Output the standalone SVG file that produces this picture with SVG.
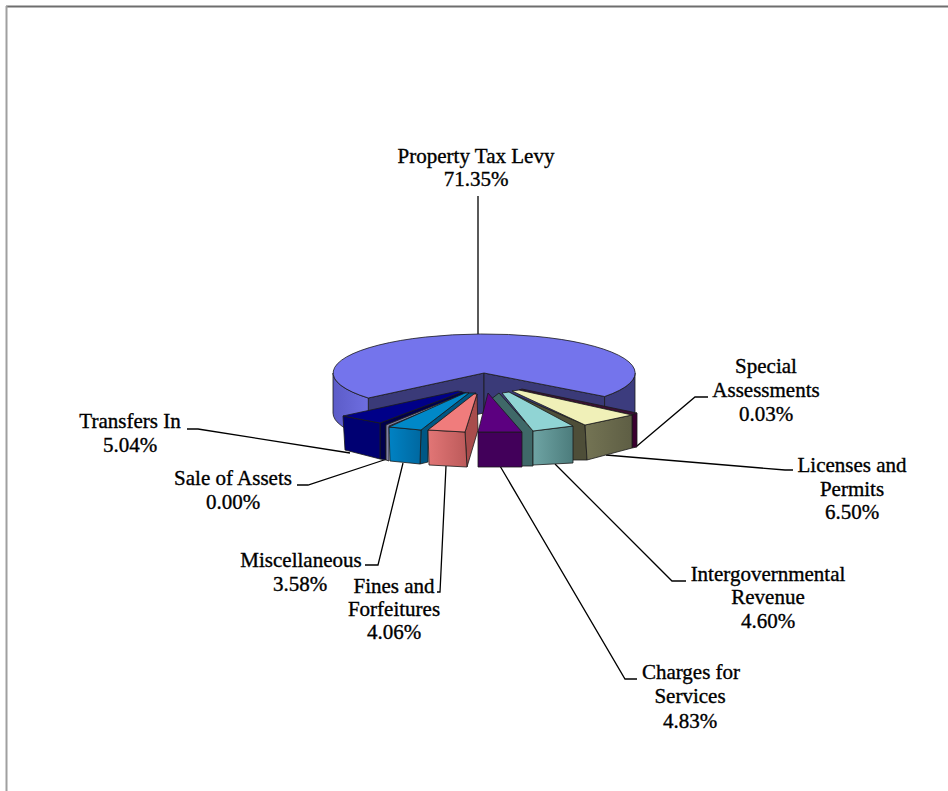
<svg xmlns="http://www.w3.org/2000/svg" width="948" height="791" viewBox="0 0 948 791">
<style>
.lbl{font-family:"Liberation Serif","Times New Roman",serif;font-size:21px;fill:#000;stroke:#000;stroke-width:0.35;text-anchor:middle}
.edge{stroke:#1a1a1a;stroke-width:0.8;stroke-linejoin:round}
.lead{fill:none;stroke:#000;stroke-width:1.3}
</style>
<defs>
<linearGradient id="gWallL" x1="0" y1="0" x2="1" y2="0">
<stop offset="0" stop-color="#5c5cc8"/><stop offset="1" stop-color="#6e6ee0"/>
</linearGradient>
<linearGradient id="gMisc" x1="0" y1="0" x2="1" y2="0">
<stop offset="0" stop-color="#0082c4"/><stop offset="1" stop-color="#0068a0"/>
</linearGradient>
<linearGradient id="gFines" x1="0" y1="0" x2="1" y2="0">
<stop offset="0" stop-color="#e27676"/><stop offset="1" stop-color="#bc5a5a"/>
</linearGradient>
<linearGradient id="gTeal" x1="0" y1="0" x2="1" y2="0">
<stop offset="0" stop-color="#6ea4a4"/><stop offset="1" stop-color="#4c7c7c"/>
</linearGradient>
<linearGradient id="gLic" x1="0" y1="0" x2="1" y2="0">
<stop offset="0" stop-color="#747454"/><stop offset="1" stop-color="#5e5e44"/>
</linearGradient>
</defs>
<rect x="0" y="0" width="948" height="791" fill="#fff"/>
<line x1="6" y1="6.5" x2="948" y2="6.5" stroke="#6e6e6e" stroke-width="2"/>
<line x1="6.5" y1="6" x2="6.5" y2="791" stroke="#a0a0a0" stroke-width="2"/>

<g id="connectors">
<polyline class="lead" points="478,196 478,336"/>
<polyline class="lead" points="708,397 695,397 637,446"/>
<polyline class="lead" points="793,470 785,470 606,455"/>
<polyline class="lead" points="686,581 672,581 555,464"/>
<polyline class="lead" points="637,679 625,679 500,466"/>
<polyline class="lead" points="437,592 440,592 446,466"/>
<polyline class="lead" points="365,565 378,565 403,463"/>
<polyline class="lead" points="297,485 308,485 387,459"/>
<polyline class="lead" points="187,429 198,429 350,453"/>
</g>

<g id="property-tax-levy">
<path class="edge" fill="#3a3a78" d="M484,373 L368.3,398 L368.3,438 L484,413 Z"/>
<path class="edge" fill="#3a3a78" d="M484,373 L604.6,396.5 L604.6,436.5 L484,413 Z"/>
<path class="edge" fill="url(#gWallL)" d="M368.3,398 A151,39 0 0 1 333,373 L333,413 A151,39 0 0 0 368.3,438 Z"/>
<path class="edge" fill="#3c3c7e" d="M635,373 A151,39 0 0 1 604.6,396.5 L604.6,436.5 A151,39 0 0 0 635,413 Z"/>
<path class="edge" fill="#7474ec" d="M484,373 L604.6,396.5 A151,39 0 1 0 368.3,398 Z"/>
<text class="lbl" x="476" y="163">Property Tax Levy</text>
<text class="lbl" x="476" y="186">71.35%</text>
</g>

<g id="transfers-in">
<polygon class="edge" fill="#00004c" points="380,423 462,392 466,393 386,425 386,460 380,459"/>
<polygon class="edge" fill="#000072" points="343,416 380,423 380,459 345,450"/>
<polygon class="edge" fill="#000088" points="343,416 380,423 462,392 458,391"/>
<text class="lbl" x="130" y="428">Transfers In</text>
<text class="lbl" x="130" y="452">5.04%</text>
</g>

<g id="sale-of-assets">
<polygon class="edge" fill="#8080a4" points="386,425 466,393 469,393 389,426 389,461 386,460"/>
<text class="lbl" x="233" y="485">Sale of Assets</text>
<text class="lbl" x="233" y="509">0.00%</text>
</g>

<g id="miscellaneous">
<polygon class="edge" fill="#005784" points="421,430 469,393 476,393 428,430 428,462 420,464"/>
<polygon class="edge" fill="url(#gMisc)" points="389,427 421,430 420,464 390,461"/>
<polygon class="edge" fill="#0088c8" points="389,427 421,430 469,393 465,393"/>
<text class="lbl" x="301" y="567">Miscellaneous</text>
<text class="lbl" x="300" y="591">3.58%</text>
</g>

<g id="fines-and-forfeitures">
<polygon class="edge" fill="#a84c4c" points="465,432 477,394 478,430 467,467"/>
<polygon class="edge" fill="url(#gFines)" points="428,430 465,432 467,467 429,465"/>
<polygon class="edge" fill="#f07c7c" points="428,430 465,432 477,394 474,394"/>
<text class="lbl" x="394" y="593">Fines and</text>
<text class="lbl" x="394" y="616">Forfeitures</text>
<text class="lbl" x="394" y="639">4.06%</text>
</g>

<g id="special-assessments">
<polygon class="edge" fill="#3c1034" points="519,390 632,415 637,413 522,389"/>
<polygon class="edge" fill="#3a0030" points="632,415 637,413 637,447 632,448"/>
<text class="lbl" x="766" y="373">Special</text>
<text class="lbl" x="766" y="397">Assessments</text>
<text class="lbl" x="766" y="421">0.03%</text>
</g>

<g id="licenses-and-permits">
<polygon class="edge" fill="#4e4e38" points="508,392 585,425 587,460 565,460 520,400"/>
<polygon class="edge" fill="url(#gLic)" points="585,425 632,415 632,448 587,460"/>
<polygon class="edge" fill="#f0f0b8" points="512,391 585,425 632,415 519,390"/>
<text class="lbl" x="852" y="472">Licenses and</text>
<text class="lbl" x="852" y="496">Permits</text>
<text class="lbl" x="852" y="519">6.50%</text>
</g>

<g id="intergovernmental-revenue">
<polygon class="edge" fill="#3f6868" points="499,393 533,431 533,466 510,466 490,400"/>
<polygon class="edge" fill="url(#gTeal)" points="533,431 573,426 573,463 533,465"/>
<polygon class="edge" fill="#90d4d4" points="502,393 533,431 573,426 509,392"/>
<text class="lbl" x="768" y="581">Intergovernmental</text>
<text class="lbl" x="768" y="604">Revenue</text>
<text class="lbl" x="768" y="628">4.60%</text>
</g>

<g id="charges-for-services">
<polygon class="edge" fill="#42005a" points="478,432 522,432 522,467 478,467"/>
<polygon class="edge" fill="#5c0080" points="478,432 488,393 522,432"/>
<text class="lbl" x="691" y="679">Charges for</text>
<text class="lbl" x="690" y="703">Services</text>
<text class="lbl" x="690" y="728">4.83%</text>
</g>
</svg>
